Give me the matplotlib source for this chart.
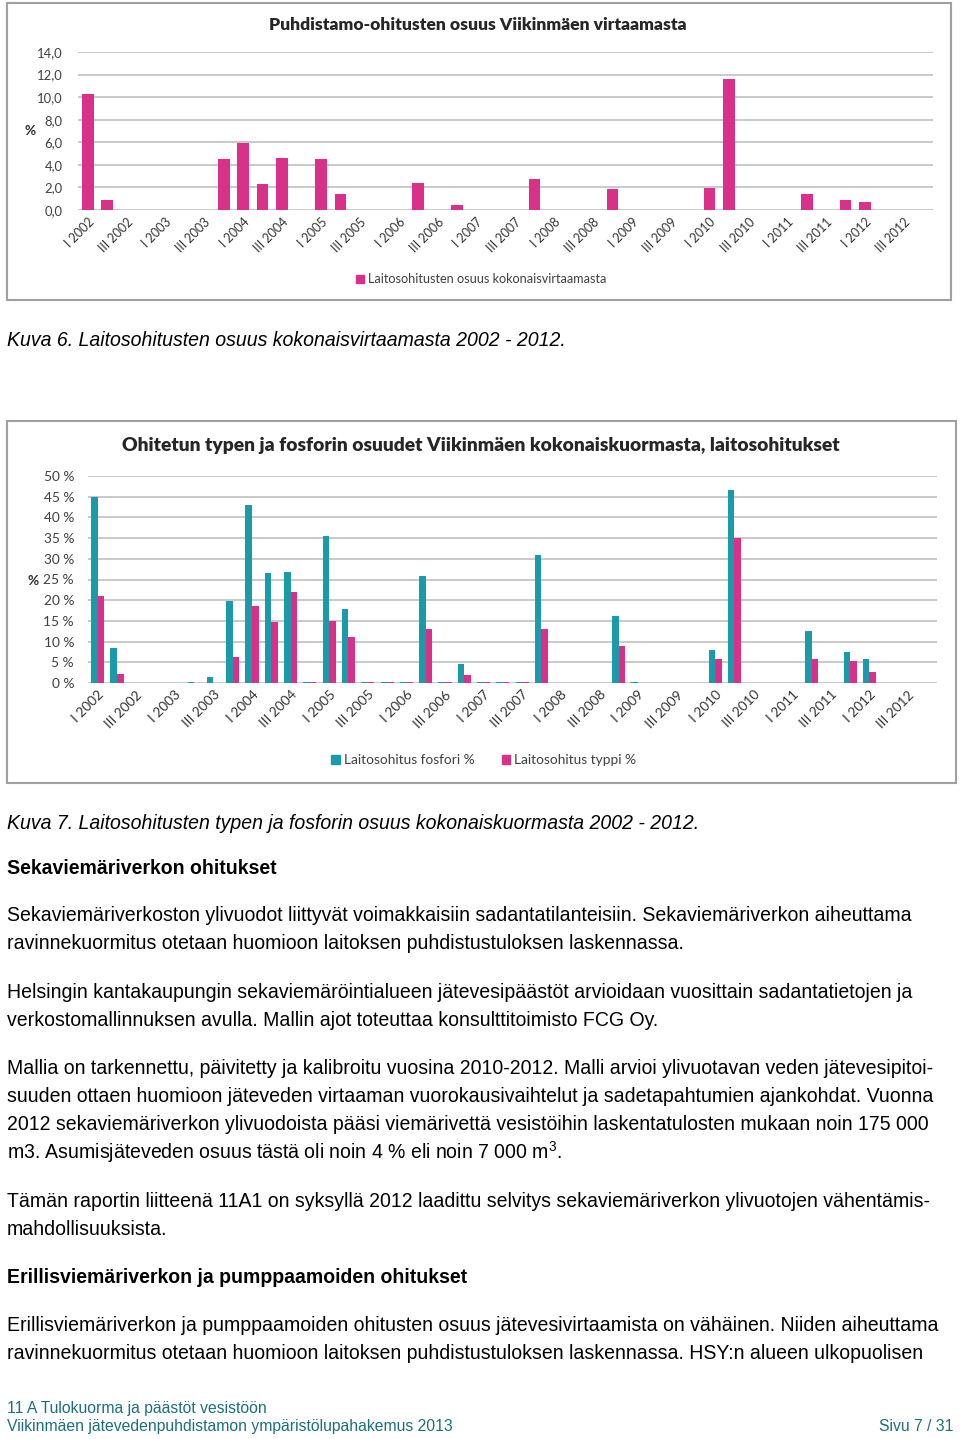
import numpy as np
import matplotlib
matplotlib.use("Agg")
import matplotlib.pyplot as plt
from matplotlib.patches import Rectangle, Patch
from matplotlib.ticker import FuncFormatter

W, H = 960, 1439

# quarters 2002-2012, only I and III get a label
years = list(range(2002, 2013))
quarters = ["I", "II", "III", "IV"]
categories = [f"{q} {y}" for y in years for q in quarters]
tick_labels = [c if c.split()[0] in ("I", "III") else "" for c in categories]

# chart 1: plant bypass share of total flow (%), by quarter index
flow_idx = [0, 1, 7, 8, 9, 10, 12, 13, 17, 19, 23, 27, 32, 33, 37, 39, 40]
flow_val = [10.3, 0.85, 4.5, 5.9, 2.3, 4.65, 4.5, 1.45, 2.4, 0.4, 2.75, 1.85, 1.95, 11.6, 1.45, 0.85, 0.75]

# chart 2: bypassed phosphorus / nitrogen share of total load (%)
load_idx = [0, 1, 5, 6, 7, 8, 9, 10, 11, 12, 13, 14, 15, 16, 17, 18, 19,
            20, 21, 22, 23, 27, 28, 32, 33, 37, 39, 40]
fosfori = [45.0, 8.4, 0.2, 1.4, 19.9, 43.0, 26.5, 26.7, 0.3, 35.5, 17.8, 0.3, 0.3, 0.3, 25.8, 0.3, 4.7,
           0.3, 0.3, 0.3, 30.8, 16.2, 0.2, 8.0, 46.6, 12.5, 7.6, 5.9]
typpi = [20.9, 2.2, 0.0, 0.0, 6.4, 18.5, 14.7, 22.0, 0.3, 15.0, 11.1, 0.3, 0.3, 0.3, 13.0, 0.3, 2.0,
         0.3, 0.3, 0.3, 13.1, 9.0, 0.0, 5.7, 35.0, 5.9, 5.4, 2.7]

PINK = "#d9308a"
TEAL = "#1b9aaa"
GRID = "#c0c0c0"
FOOT = "#1d6f78"
CHART_FONT = ["Lato", "DejaVu Sans"]
BODY_FONT = ["Liberation Sans", "DejaVu Sans"]


def rect(x0, y0, x1, y1):
    return [x0 / W, 1 - y1 / H, (x1 - x0) / W, (y1 - y0) / H]


def ftext(x, y, s, **kw):
    kw.setdefault("family", BODY_FONT)
    kw.setdefault("va", "baseline")
    fig.text(x / W, 1 - y / H, s, **kw)


def style_axis(ax, size):
    for sp in ax.spines.values():
        sp.set_visible(False)
    ax.set_axisbelow(True)
    ax.yaxis.grid(True, color=GRID, lw=1.2)
    ax.tick_params(length=0)
    ax.set_xlim(-0.5, len(categories) - 0.5)
    ax.set_xticks(range(len(categories)))
    ax.set_xticklabels(tick_labels, rotation=45, ha="right", rotation_mode="anchor",
                       family=CHART_FONT, fontsize=size, color="#333333")
    ax.tick_params(axis="x", pad=4)
    for lab in ax.get_yticklabels():
        lab.set_family(CHART_FONT)


fig = plt.figure(figsize=(W / 100, H / 100), dpi=100)
plt.rcParams["mathtext.default"] = "regular"

# chart frames
fig.patches.append(Rectangle((7 / W, 1 - 300 / H), 944 / W, 297 / H, transform=fig.transFigure,
                             fill=False, ec="#a0a0a0", lw=1.5))
fig.patches.append(Rectangle((7 / W, 1 - 783 / H), 949 / W, 362 / H, transform=fig.transFigure,
                             fill=False, ec="#a0a0a0", lw=1.5))

# ---- chart 1
ax1 = fig.add_axes(rect(78, 52, 933, 210))
ax1.bar(flow_idx, flow_val, width=0.6, color=PINK)
ax1.set_ylim(0, 14)
ax1.set_yticks(np.arange(0, 15, 2))
ax1.yaxis.set_major_formatter(FuncFormatter(lambda v, p: f"{v:.1f}".replace(".", ",")))
style_axis(ax1, 9.0)
ax1.tick_params(axis="y", labelsize=9.4, labelcolor="#404040", pad=11)
ftext(478, 30, "Puhdistamo-ohitusten osuus Viikinmäen virtaamasta", family=CHART_FONT,
      weight="heavy", fontsize=12.6, ha="center", color="#262626")
ftext(30, 135, "%", family=CHART_FONT, weight="bold", fontsize=9.8, ha="center", color="#262626")
fig.legend(handles=[Patch(color=PINK, label="Laitosohitusten osuus kokonaisvirtaamasta")],
           loc="center", bbox_to_anchor=(481 / W, 1 - 279 / H), frameon=False,
           prop={"family": CHART_FONT, "size": 9.1}, handlelength=0.6, handleheight=0.6,
           handletextpad=0.3, labelcolor="#404040")

# ---- chart 2
ax2 = fig.add_axes(rect(88, 476, 937, 683))
bw = 0.34
ax2.bar(np.array(load_idx) - bw / 2, np.array(fosfori) / 100, width=bw, color=TEAL)
ax2.bar(np.array(load_idx) + bw / 2, np.array(typpi) / 100, width=bw, color=PINK)
ax2.set_ylim(0, 0.5)
ax2.set_yticks(np.arange(0, 0.51, 0.05))
ax2.yaxis.set_major_formatter(FuncFormatter(lambda v, p: f"{round(v * 100)} %"))
style_axis(ax2, 9.8)
ax2.tick_params(axis="y", labelsize=9.9, labelcolor="#404040", pad=10)
ftext(481, 451, "Ohitetun typen ja fosforin osuudet Viikinmäen kokonaiskuormasta, laitosohitukset",
      family=CHART_FONT, weight="heavy", fontsize=13.85, ha="center", color="#262626")
ftext(33, 585, "%", family=CHART_FONT, weight="bold", fontsize=9.8, ha="center", color="#262626")
fig.legend(handles=[Patch(color=TEAL, label="Laitosohitus fosfori %"),
                    Patch(color=PINK, label="Laitosohitus typpi %")],
           loc="center", bbox_to_anchor=(484 / W, 1 - 760 / H), frameon=False, ncol=2,
           prop={"family": CHART_FONT, "size": 9.9}, handlelength=0.6, handleheight=0.6,
           handletextpad=0.3, columnspacing=2.0, labelcolor="#404040")

# ---- document text
BS = 14.05
ftext(7, 346, "Kuva 6. Laitosohitusten osuus kokonaisvirtaamasta 2002 - 2012.", fontsize=BS, style="italic")
ftext(7, 829, "Kuva 7. Laitosohitusten typen ja fosforin osuus kokonaiskuormasta 2002 - 2012.",
      fontsize=BS, style="italic")
ftext(7, 874, "Sekaviemäriverkon ohitukset", fontsize=BS, weight="bold")

lines = [
    (921, "Sekaviemäriverkoston ylivuodot liittyvät voimakkaisiin sadantatilanteisiin. Sekaviemäriverkon aiheuttama"),
    (949, "ravinnekuormitus otetaan huomioon laitoksen puhdistustuloksen laskennassa."),
    (998, "Helsingin kantakaupungin sekaviemäröintialueen jätevesipäästöt arvioidaan vuosittain sadantatietojen ja"),
    (1026, "verkostomallinnuksen avulla. Mallin ajot toteuttaa konsulttitoimisto FCG Oy."),
    (1074, "Mallia on tarkennettu, päivitetty ja kalibroitu vuosina 2010-2012. Malli arvioi ylivuotavan veden jätevesipitoi-"),
    (1102, "suuden ottaen huomioon jäteveden virtaaman vuorokausivaihtelut ja sadetapahtumien ajankohdat. Vuonna"),
    (1130, "2012 sekaviemäriverkon ylivuodoista pääsi viemärivettä vesistöihin laskentatulosten mukaan noin 175 000"),
    (1159, "m3. Asumisjäteveden osuus tästä oli noin 4 % eli noin 7 000 m$^3$."),
    (1207, "Tämän raportin liitteenä 11A1 on syksyllä 2012 laadittu selvitys sekaviemäriverkon ylivuotojen vähentämis-"),
    (1235, "mahdollisuuksista."),
    (1331, "Erillisviemäriverkon ja pumppaamoiden ohitusten osuus jätevesivirtaamista on vähäinen. Niiden aiheuttama"),
    (1359, "ravinnekuormitus otetaan huomioon laitoksen puhdistustuloksen laskennassa. HSY:n alueen ulkopuolisen"),
]
for y, s in lines:
    ftext(7, y, s, fontsize=BS)
ftext(7, 1283, "Erillisviemäriverkon ja pumppaamoiden ohitukset", fontsize=BS, weight="bold")

ftext(7, 1413, "11 A Tulokuorma ja päästöt vesistöön", fontsize=11.35, color=FOOT)
ftext(7, 1431, "Viikinmäen jätevedenpuhdistamon ympäristölupahakemus 2013", fontsize=11.35, color=FOOT)
ftext(953, 1431, "Sivu 7 / 31", fontsize=11.35, color=FOOT, ha="right")

fig.savefig("out.png", dpi=100)
